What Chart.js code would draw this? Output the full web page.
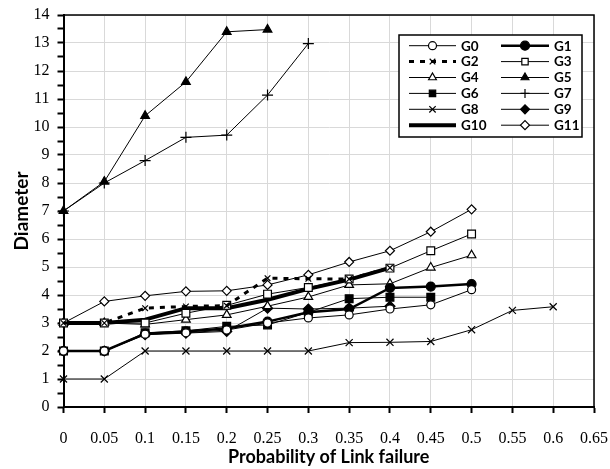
<!DOCTYPE html>
<html>
<head>
<meta charset="utf-8">
<script src="https://cdn.jsdelivr.net/npm/chart.js@4.4.1/dist/chart.umd.min.js"></script>
<style>
  html, body { margin: 0; padding: 0; background: #fff; }
  #wrap { width: 610px; height: 469px; }
</style>
</head>
<body>
<div id="wrap"><canvas id="chart" width="610" height="469"></canvas></div>
<script>
// --- data ---
const probs = [0, 0.05, 0.1, 0.15, 0.2, 0.25, 0.3, 0.35, 0.4, 0.45, 0.5, 0.55, 0.6];
const names = ['G0', 'G1', 'G2', 'G3', 'G4', 'G5', 'G6', 'G7', 'G8', 'G9', 'G10', 'G11'];

const g0  = [2, 2, 2.6, 2.65, 2.75, 3.0, 3.18, 3.29, 3.5, 3.65, 4.19];
const g1  = [2, 2, 2.62, 2.7, 2.8, 3.05, 3.38, 3.5, 4.25, 4.3, 4.39];
const g2  = [3, 3, 3.53, 3.59, 3.62, 4.6, 4.58, 4.57, 4.97];
const g3  = [3, 3, 3.0, 3.35, 3.63, 4.03, 4.27, 4.57, 4.96, 5.58, 6.18];
const g4  = [3, 3, 2.95, 3.12, 3.29, 3.6, 3.93, 4.36, 4.4, 4.98, 5.42];
const g5  = [7, 8.05, 10.4, 11.61, 13.4, 13.48];
const g6  = [2, 2, 2.65, 2.72, 2.88, 2.93, 3.38, 3.87, 3.92, 3.92];
const g7  = [7, 8.0, 8.8, 9.63, 9.71, 11.14, 12.98];
const g8  = [1, 1, 2, 2, 2, 2, 2, 2.3, 2.31, 2.34, 2.76, 3.45, 3.58];
const g9  = [2, 2, 2.58, 2.64, 2.7, 3.53, 3.5, 3.53, 3.6];
const g10 = [3, 3, 3.12, 3.53, 3.53, 3.83, 4.22, 4.55, 4.97];
const g11 = [3, 3.77, 3.97, 4.13, 4.15, 4.36, 4.72, 5.18, 5.58, 6.26, 7.06];

const xMin = 0, xMax = 0.65, xStep = 0.05;
const yMin = 0, yMax = 14;

const pts = (vals) => vals.map((v, i) => ({ x: probs[i], y: v }));

// style per series: [pointStyle, filled, lineWidth, radius, dash]
const looks = [
  ['circle', false, 1, 4, []],
  ['circle', true, 2.5, 4.5, []],
  ['crossRot', false, 3, 4, [5, 6]],
  ['rect', false, 1, 5.5, []],
  ['triangle', false, 1, 5, []],
  ['triangle', true, 1, 5, []],
  ['rect', true, 1, 5.5, []],
  ['cross', false, 1, 5.5, []],
  ['crossRot', false, 1, 5, []],
  ['rectRot', true, 1, 5, []],
  [false, true, 4, 0, []],
  ['rectRot', false, 1, 4.5, []]
];
const allSeries = [g0, g1, g2, g3, g4, g5, g6, g7, g8, g9, g10, g11];

const datasets = allSeries.map((vals, i) => {
  const [style, filled, lw, r, dash] = looks[i];
  return {
    label: names[i],
    data: pts(vals),
    borderColor: '#000',
    backgroundColor: filled ? '#000' : '#fff',
    borderWidth: lw,
    borderDash: dash,
    pointStyle: style,
    pointRadius: r,
    pointBorderWidth: 1.2,
    pointBorderColor: '#000',
    pointBackgroundColor: filled ? '#000' : '#fff',
    tension: 0,
    clip: false
  };
});

// --- plot frame (top and right edge) ---
const frame = {
  id: 'frame',
  beforeDatasetsDraw(chart) {
    const { ctx, chartArea: a } = chart;
    ctx.save();
    ctx.strokeStyle = '#000';
    ctx.lineWidth = 1.5;
    ctx.beginPath();
    ctx.moveTo(a.left, a.top);
    ctx.lineTo(a.right, a.top);
    ctx.lineTo(a.right, a.bottom);
    ctx.stroke();
    ctx.restore();
  }
};

// --- boxed legend, two columns like the original ---
const boxLegend = {
  id: 'boxLegend',
  afterDraw(chart) {
    const { ctx } = chart;
    const bx = 399, by = 35, bw = 183, bh = 102;
    ctx.save();
    ctx.fillStyle = '#fff';
    ctx.fillRect(bx, by, bw, bh);
    ctx.strokeStyle = '#000';
    ctx.lineWidth = 1.5;
    ctx.strokeRect(bx, by, bw, bh);
    ctx.font = 'bold 13.5px Lato';
    ctx.textBaseline = 'middle';
    chart.data.datasets.forEach((ds, i) => {
      const col = i % 2, row = Math.floor(i / 2);
      const x0 = col ? 501 : 409, x1 = col ? 549 : 456;
      const y = 45.7 + row * 15.9;
      ctx.strokeStyle = '#000';
      ctx.lineWidth = ds.borderWidth;
      ctx.setLineDash(ds.borderDash);
      ctx.beginPath();
      ctx.moveTo(x0, y);
      ctx.lineTo(x1, y);
      ctx.stroke();
      ctx.setLineDash([]);
      if (ds.pointStyle) {
        ctx.fillStyle = ds.pointBackgroundColor;
        ctx.strokeStyle = '#000';
        ctx.lineWidth = 1.2;
        Chart.helpers.drawPoint(ctx, {
          pointStyle: ds.pointStyle, rotation: 0,
          radius: Math.min(ds.pointRadius, 4.5), borderWidth: 1.2
        }, (x0 + x1) / 2, y);
      }
      ctx.fillStyle = '#000';
      ctx.fillText(ds.label, x1 + 5, y + 0.5);
    });
    ctx.restore();
  }
};

const gridGrey = '#d9d9d9';

new Chart(document.getElementById('chart'), {
  type: 'line',
  data: { datasets },
  plugins: [frame, boxLegend],
  options: {
    responsive: false,
    animation: false,
    layout: { padding: 0 },
    plugins: { legend: { display: false }, tooltip: { enabled: false } },
    scales: {
      x: {
        type: 'linear',
        min: xMin, max: xMax,
        afterFit: (s) => { s.height = 62; s.paddingRight = 16; },
        border: { color: '#000', width: 2 },
        grid: { color: gridGrey, lineWidth: 1, tickLength: 6, tickColor: '#000', tickWidth: 2 },
        ticks: {
          stepSize: xStep,
          autoSkip: false,
          maxRotation: 0,
          padding: 16,
          color: '#000',
          font: { family: 'Liberation Serif', size: 16 },
          callback: (v) => String(Number(v.toFixed(2)))
        },
        title: {
          display: true,
          text: 'Probability of Link failure',
          color: '#000',
          font: { family: 'Lato', size: 18, weight: 'bold' },
          padding: { top: 0, bottom: 1 }
        }
      },
      y: {
        min: yMin, max: yMax,
        afterFit: (s) => { s.width = 63.5; s.paddingTop = 15; },
        border: { color: '#000', width: 2 },
        grid: {
          color: (c) => (c.tick && c.tick.value % 1 === 0) ? gridGrey : 'rgba(0,0,0,0)',
          lineWidth: 1, tickLength: 6, tickColor: '#000', tickWidth: 2
        },
        ticks: {
          stepSize: 0.5,
          autoSkip: false,
          padding: 8,
          color: '#000',
          font: { family: 'Liberation Serif', size: 16 },
          callback: (v) => (v % 1 === 0 ? String(v) : '')
        },
        title: {
          display: true,
          text: 'Diameter',
          color: '#000',
          font: { family: 'Lato', size: 19, weight: 'bold' },
          padding: { top: 10, bottom: 0 }
        }
      }
    }
  }
});
</script>
</body>
</html>
